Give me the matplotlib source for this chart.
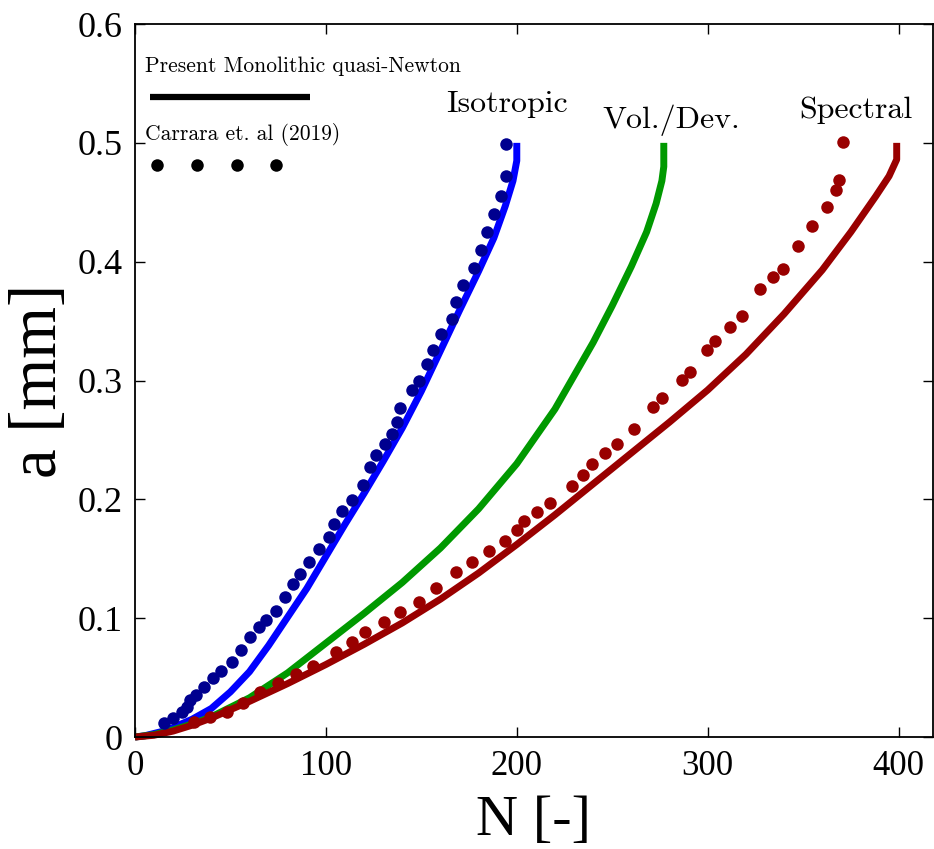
import numpy as np
from matplotlib import pyplot as plt

# ################################ crack length vs. number of cycles ##################################

# present monolithic quasi-Newton results (lines)
iso_N = [0, 5, 10, 15, 20, 30, 40, 50, 60, 70, 80, 90, 100, 110, 120, 130, 140, 150, 160, 170, 180,
         188, 194, 198, 200, 200]
iso_a = [0, 0.001, 0.003, 0.005, 0.008, 0.015, 0.024, 0.038, 0.055, 0.077, 0.101, 0.125, 0.152,
         0.179, 0.205, 0.232, 0.260, 0.291, 0.325, 0.359, 0.392, 0.420, 0.447, 0.468, 0.485, 0.5]

vd_N = [0, 10, 20, 30, 40, 60, 80, 100, 120, 140, 160, 180, 200, 220, 240, 250, 260, 268, 273, 276,
        277, 277]
vd_a = [0, 0.002, 0.006, 0.011, 0.017, 0.033, 0.054, 0.079, 0.104, 0.130, 0.159, 0.192, 0.230,
        0.276, 0.332, 0.363, 0.396, 0.425, 0.449, 0.468, 0.48, 0.5]

spec_N = [0, 10, 20, 30, 40, 60, 80, 100, 120, 140, 160, 180, 200, 220, 240, 260, 280, 300, 320,
          340, 360, 375, 388, 395, 399, 399]
spec_a = [0, 0.0015, 0.005, 0.010, 0.016, 0.030, 0.045, 0.061, 0.078, 0.096, 0.116, 0.138, 0.162,
          0.187, 0.213, 0.239, 0.265, 0.292, 0.322, 0.356, 0.393, 0.425, 0.455, 0.472, 0.486, 0.5]

# Carrara et al. (2019) reference results (dots)
carr_iso_N = [15.2, 19.7, 24.8, 27, 28.8, 31.8, 36.1, 40.7, 44.9, 50.6, 55.5, 60.4, 65.1, 68.4, 73.7,
              78.4, 82.6, 86.7, 90.9, 96.5, 101.4, 104, 108.7, 113.6, 119.2, 123, 126.5, 130.9, 134.6,
              137, 138.7, 144.9, 148.9, 153, 156.2, 160.4, 166, 168.4, 172, 177.8, 181, 184.5, 188,
              191.5, 194.3, 194.3]
carr_iso_a = [0.0115, 0.0157, 0.0213, 0.0255, 0.031, 0.0356, 0.0418, 0.0497, 0.0556, 0.0629, 0.073,
              0.084, 0.093, 0.0985, 0.106, 0.118, 0.1285, 0.1375, 0.147, 0.158, 0.1686, 0.179, 0.190,
              0.1995, 0.212, 0.227, 0.237, 0.247, 0.255, 0.265, 0.277, 0.292, 0.30, 0.314, 0.326,
              0.339, 0.352, 0.366, 0.380, 0.395, 0.41, 0.425, 0.440, 0.455, 0.4725, 0.499]

carr_spec_N = [31, 39.3, 48, 56.4, 65.4, 74.7, 84.1, 93.4, 105.2, 113.6, 120.4, 130.5, 138.7, 148.9,
               157.9, 168.4, 176.4, 185.5, 193.7, 200, 203.8, 210.5, 217.6, 229.1, 234.7, 239.6,
               246.2, 252.7, 261.3, 271.4, 276.2, 286.7, 290.9, 299.8, 303.8, 311.9, 318, 327.2,
               334.2, 339.4, 347.5, 354.8, 362.5, 367.4, 368.6, 370.8]
carr_spec_a = [0.0124, 0.0171, 0.0213, 0.0289, 0.0381, 0.0457, 0.0528, 0.0598, 0.0713, 0.0802,
               0.0886, 0.097, 0.105, 0.1139, 0.125, 0.139, 0.1476, 0.1568, 0.1652, 0.1745, 0.1818,
               0.1897, 0.1967, 0.2115, 0.2208, 0.2295, 0.2393, 0.2464, 0.259, 0.278, 0.2856, 0.3005,
               0.3075, 0.3258, 0.3336, 0.345, 0.354, 0.377, 0.3875, 0.394, 0.413, 0.430, 0.446,
               0.460, 0.469, 0.5005]

x_ticks = [0, 100, 200, 300, 400]
y_ticks = [0, 0.1, 0.2, 0.3, 0.4, 0.5, 0.6]
y_tick_labels = ["0", "0.1", "0.2", "0.3", "0.4", "0.5", "0.6"]

# ############################################## Plot ##################################################

BLUE = "#0000ff"
DARK_BLUE = "#00008f"
GREEN = "#009900"
DARK_RED = "#990000"

tick_font = "Liberation Serif"
cm_font = "cmr10"

fig = plt.figure(figsize=(9.34, 8.49), dpi=100)
ax = fig.add_axes([0.1445, 0.1319, 0.8544, 0.8398])

line_kw = dict(lw=5, solid_capstyle="butt", solid_joinstyle="round", clip_on=False)
ax.plot(iso_N, iso_a, color=BLUE, zorder=2, **line_kw)
ax.plot(vd_N, vd_a, color=GREEN, zorder=2, **line_kw)
ax.plot(spec_N, spec_a, color=DARK_RED, zorder=2.5, **line_kw)
ax.plot(carr_iso_N, carr_iso_a, "o", color=DARK_BLUE, ms=9, mew=0, zorder=3)
ax.plot(carr_spec_N, carr_spec_a, "o", color=DARK_RED, ms=9, mew=0, zorder=3)

# curve labels
ax.text(195, 0.526, "Isotropic", family=cm_font, fontsize=23, ha="center", va="baseline")
ax.text(281, 0.5126, "Vol./Dev.", family=cm_font, fontsize=23, ha="center", va="baseline")
ax.text(377.5, 0.521, "Spectral", family=cm_font, fontsize=23, ha="center", va="baseline")

# hand-made legend
ax.text(0.0125, 0.933, "Present Monolithic quasi-Newton", transform=ax.transAxes,
        family=cm_font, fontsize=15.5, va="baseline")
ax.plot([0.019, 0.219], [0.8976, 0.8976], transform=ax.transAxes, color="black", lw=4.5,
        solid_capstyle="butt")
ax.text(0.0125, 0.837, "Carrara et. al (2019)", transform=ax.transAxes,
        family=cm_font, fontsize=15.5, va="baseline")
ax.plot([0.0276, 0.0777, 0.1278, 0.1767], [0.802] * 4, "o", transform=ax.transAxes,
        color="black", ms=9, mew=0)

ax.set_xlim(0, 418)
ax.set_ylim(0, 0.6)
ax.set_xticks(x_ticks)
ax.set_xticklabels([str(t) for t in x_ticks], family=tick_font, fontsize=25)
ax.set_yticks(y_ticks)
ax.set_yticklabels(y_tick_labels, family=tick_font, fontsize=26)
ax.tick_params(direction="in", top=True, right=True, length=7, width=1, pad=9)

for s in ax.spines.values():
    s.set_linewidth(1.3)

ax.set_xlabel("N [-]", family=tick_font, fontsize=42, labelpad=9)
ax.set_ylabel("a [mm]", family=tick_font, fontsize=48, labelpad=5)

plt.savefig("out.png", dpi=100)
